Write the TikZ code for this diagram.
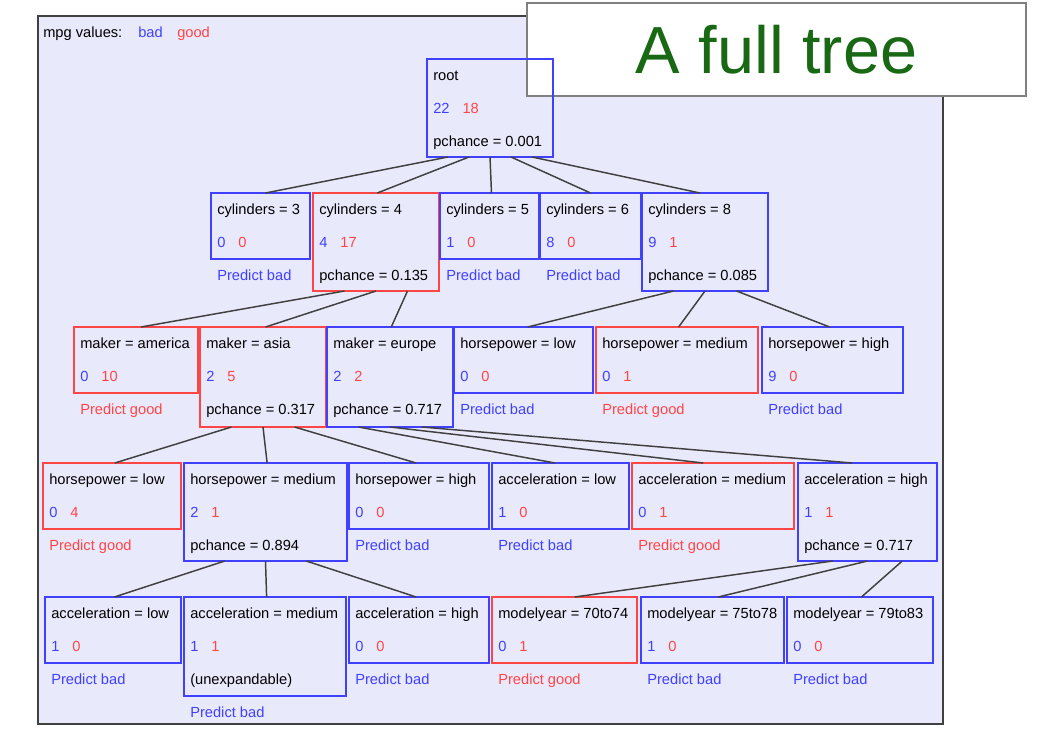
\documentclass[tikz,border=0pt]{standalone}
\usepackage{fontspec}
\setmainfont{Liberation Sans}
\usetikzlibrary{calc}
\definecolor{cbad}{RGB}{64,64,255}
\definecolor{cgood}{RGB}{255,70,70}
\definecolor{panel}{RGB}{233,233,252}
\definecolor{edgec}{RGB}{64,64,64}
\definecolor{titlegreen}{RGB}{24,104,20}
\tikzset{
  tbox/.style={draw, line width=1.4pt, anchor=north west, inner sep=0pt, outer sep=0pt, rectangle},
  ttext/.style={anchor=west, inner sep=0pt, font=\fontsize{11}{13}\selectfont, text height=7.5pt, text depth=2pt},
  tedge/.style={draw=edgec, line width=1.1pt},
}
\newcommand\tn[9]{%
  \node[tbox, draw=#6, minimum width={(#4-#2)*0.75pt}, minimum height={(#5-#3)*0.75pt}] (#1) at (#2,#3) {};
  \node[ttext] (#1-l) at ($(#1.north west)+(6,17.5)$) {#7};
  \node[ttext] (#1-c) at ($(#1.north west)+(6,50.5)$) {\textcolor{cbad}{#8}\hspace{9.75pt}\textcolor{cgood}{#9}};
}
\newcommand\third[3]{\node[ttext] (#1-t) at ($(#1.north west)+(6,#2)$) {#3};}
\newcommand\pred[4]{\node[ttext, text=#3] (#1-p) at ($(#1.north west)+(6,#2)$) {#4};}
\newcommand\tedgeline[5]{\draw[tedge] ($(#1.south west)!#2!(#1.south east)$) -- ($(#3.north west)!#4!(#3.north east)$);}
\begin{document}
\begin{tikzpicture}[x=0.75pt, y=-0.75pt]
\useasboundingbox (0,0) rectangle (1037,734);
\fill[white] (0,0) rectangle (1037,734);
% panel
\draw[draw=black!75, fill=panel, line width=1.5pt] (38,16) rectangle (943,724);
% title
\node[draw=black!50, fill=white, line width=1.2pt, anchor=north west, inner sep=0pt, outer sep=0pt,
      minimum width={(1026-527)*0.75pt}, minimum height={(96-3)*0.75pt},
      text=titlegreen, font=\fontsize{50}{52}\selectfont] (title) at (527,3) {A full tree};
% legend
\node[ttext] (leg) at (43,34) {mpg values:};
\node[ttext, text=cbad] (legbad) at (138,34) {bad};
\node[ttext, text=cgood] (leggood) at (177,34) {good};
% root
\tn{root}{427}{59}{553}{157}{cbad}{root}{22}{18}
\third{root}{83.5}{pchance = 0.001}
% level 1
\tn{c3}{211}{193}{310}{259}{cbad}{cylinders = 3}{0}{0}
\pred{c3}{83.5}{cbad}{Predict bad}
\tn{c4}{313}{193}{439}{291}{cgood}{cylinders = 4}{4}{17}
\third{c4}{83.5}{pchance = 0.135}
\tn{c5}{440}{193}{539}{259}{cbad}{cylinders = 5}{1}{0}
\pred{c5}{83.5}{cbad}{Predict bad}
\tn{c6}{540}{193}{641}{259}{cbad}{cylinders = 6}{8}{0}
\pred{c6}{83.5}{cbad}{Predict bad}
\tn{c8}{642}{193}{768}{291}{cbad}{cylinders = 8}{9}{1}
\third{c8}{83.5}{pchance = 0.085}
% level 2
\tn{am}{74}{327}{198}{393}{cgood}{maker = america}{0}{10}
\pred{am}{83.5}{cgood}{Predict good}
\tn{as}{200}{327}{326}{427}{cgood}{maker = asia}{2}{5}
\third{as}{83.5}{pchance = 0.317}
\tn{eu}{327}{327}{453}{427}{cbad}{maker = europe}{2}{2}
\third{eu}{83.5}{pchance = 0.717}
\tn{hl}{454}{327}{593}{393}{cbad}{horsepower = low}{0}{0}
\pred{hl}{83.5}{cbad}{Predict bad}
\tn{hm}{596}{327}{758}{393}{cgood}{horsepower = medium}{0}{1}
\pred{hm}{83.5}{cgood}{Predict good}
\tn{hh}{762}{327}{903}{393}{cbad}{horsepower = high}{9}{0}
\pred{hh}{83.5}{cbad}{Predict bad}
% level 3
\tn{ahl}{43}{463}{181}{529}{cgood}{horsepower = low}{0}{4}
\pred{ahl}{83.5}{cgood}{Predict good}
\tn{ahm}{184}{463}{347}{561}{cbad}{horsepower = medium}{2}{1}
\third{ahm}{83.5}{pchance = 0.894}
\tn{ahh}{349}{463}{489}{529}{cbad}{horsepower = high}{0}{0}
\pred{ahh}{83.5}{cbad}{Predict bad}
\tn{eal}{492}{463}{629}{529}{cbad}{acceleration = low}{1}{0}
\pred{eal}{83.5}{cbad}{Predict bad}
\tn{eam}{632}{463}{794}{529}{cgood}{acceleration = medium}{0}{1}
\pred{eam}{83.5}{cgood}{Predict good}
\tn{eah}{798}{463}{937}{561}{cbad}{acceleration = high}{1}{1}
\third{eah}{83.5}{pchance = 0.717}
% level 4
\tn{mal}{45}{597}{181}{663}{cbad}{acceleration = low}{1}{0}
\pred{mal}{83.5}{cbad}{Predict bad}
\tn{mam}{184}{597}{346}{696}{cbad}{acceleration = medium}{1}{1}
\third{mam}{83.5}{(unexpandable)}
\pred{mam}{117}{cbad}{Predict bad}
\tn{mah}{349}{597}{489}{663}{cbad}{acceleration = high}{0}{0}
\pred{mah}{83.5}{cbad}{Predict bad}
\tn{ya}{492}{597}{637}{663}{cgood}{modelyear = 70to74}{0}{1}
\pred{ya}{83.5}{cgood}{Predict good}
\tn{yb}{641}{597}{784}{663}{cbad}{modelyear = 75to78}{1}{0}
\pred{yb}{83.5}{cbad}{Predict bad}
\tn{yc}{787}{597}{933}{663}{cbad}{modelyear = 79to83}{0}{0}
\pred{yc}{83.5}{cbad}{Predict bad}
% edges
\tedgeline{root}{0.1667}{c3}{0.55}{}
\tedgeline{root}{0.3333}{c4}{0.51}{}
\tedgeline{root}{0.5}{c5}{0.52}{}
\tedgeline{root}{0.6667}{c6}{0.5}{}
\tedgeline{root}{0.8333}{c8}{0.46}{}
\tedgeline{c4}{0.25}{am}{0.54}{}
\tedgeline{c4}{0.5}{as}{0.52}{}
\tedgeline{c4}{0.75}{eu}{0.51}{}
\tedgeline{c8}{0.25}{hl}{0.53}{}
\tedgeline{c8}{0.5}{hm}{0.51}{}
\tedgeline{c8}{0.75}{hh}{0.48}{}
\tedgeline{as}{0.25}{ahl}{0.52}{}
\tedgeline{as}{0.5}{ahm}{0.51}{}
\tedgeline{as}{0.75}{ahh}{0.48}{}
\tedgeline{eu}{0.25}{eal}{0.46}{}
\tedgeline{eu}{0.5}{eam}{0.44}{}
\tedgeline{eu}{0.75}{eah}{0.39}{}
\tedgeline{ahm}{0.25}{mal}{0.51}{}
\tedgeline{ahm}{0.5}{mam}{0.51}{}
\tedgeline{ahm}{0.75}{mah}{0.48}{}
\tedgeline{eah}{0.25}{ya}{0.57}{}
\tedgeline{eah}{0.5}{yb}{0.54}{}
\tedgeline{eah}{0.75}{yc}{0.51}{}
\end{tikzpicture}
\end{document}
